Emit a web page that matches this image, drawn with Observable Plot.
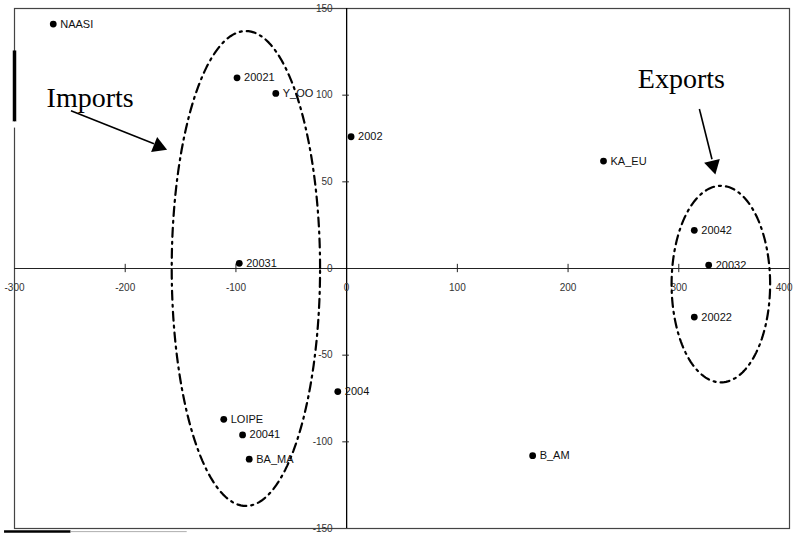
<!DOCTYPE html>
<html>
<head>
<meta charset="utf-8">
<script src="https://cdn.jsdelivr.net/npm/d3@7"></script>
<script src="https://cdn.jsdelivr.net/npm/@observablehq/plot@0.6"></script>
<style>
  html, body { margin: 0; padding: 0; background: #fff; }
  #chart svg { display: block; }
</style>
</head>
<body>
<div id="chart"></div>
<script>
// ---- data ----
const labels = ["NAASI", "20021", "Y_OO", "2002", "20031", "KA_EU", "20042", "20032", "20022", "B_AM", "2004", "LOIPE", "20041", "BA_MA"];
const xValues = [-265, -99, -64, 4, -97, 232, 314, 327, 314, 168, -8, -111, -94, -88];
const yValues = [141, 110, 101, 76, 3, 62, 22, 2, -28, -108, -71, -87, -96, -110];

const xTicks = [-300, -200, -100, 0, 100, 200, 300, 400];
const yTicks = [-150, -100, -50, 0, 50, 100, 150];

// annotation groups: ellipse centre, radii (data units)
const groupNames = ["Imports", "Exports"];
const groupCx = [-91, 338];
const groupCy = [0, -9];
const groupRx = [67, 44.5];
const groupRy = [137, 56.7];
// annotation text anchors (data units)
const noteX = [-271, 263];
const noteY = [93, 104];
// arrows: start and end (data units)
const arrowX1 = [-249, 318.6];
const arrowY1 = [91, 92];
const arrowX2 = [-174, 330];
const arrowY2 = [72, 63];
const arrowHeadX = [-170, 331];
const arrowHeadY = [70.5, 59.5];
const arrowRotate = [112, 166];

// ---- tables ----
const points = labels.map((l, i) => ({label: l, x: xValues[i], y: yValues[i]}));
const ellipses = [];
groupNames.forEach((g, i) => {
  for (let k = 0; k <= 180; k++) {
    const t = (k / 180) * 2 * Math.PI;
    ellipses.push({group: g, x: groupCx[i] + groupRx[i] * Math.cos(t), y: groupCy[i] + groupRy[i] * Math.sin(t)});
  }
});
const notes = groupNames.map((g, i) => ({text: g, x: noteX[i], y: noteY[i]}));
const arrows = groupNames.map((g, i) => ({x1: arrowX1[i], y1: arrowY1[i], x2: arrowX2[i], y2: arrowY2[i], hx: arrowHeadX[i], hy: arrowHeadY[i], rot: arrowRotate[i]}));

const font = "'Liberation Sans', Arial, sans-serif";
const xMax = xTicks[xTicks.length - 1];

const chart = Plot.plot({
  width: 795,
  height: 533,
  marginLeft: 14,
  marginRight: 6,
  marginTop: 8,
  marginBottom: 5,
  x: {domain: [-300, 400], axis: null},
  y: {domain: [-150, 150], axis: null},
  style: {background: "#fff", fontFamily: font},
  marks: [
    Plot.frame({stroke: "#444", strokeWidth: 1.2}),
    // artifacts of the scanned figure
    Plot.ruleX([-300], {y1: 84.5, y2: 125.5, stroke: "#000", strokeWidth: 3.5}),
    Plot.ruleX([-300], {y1: 81, y2: 84.5, stroke: "#fff", strokeWidth: 3}),
    Plot.ruleY([-151.8], {x1: -309, x2: -249, stroke: "#000", strokeWidth: 2.5}),
    Plot.ruleY([-151.8], {x1: -249, x2: -144, stroke: "#999", strokeWidth: 0.8}),
    // axes through the origin
    Plot.ruleY([0], {stroke: "#222", strokeWidth: 1.1}),
    Plot.ruleX([0], {stroke: "#000", strokeWidth: 1.3}),
    Plot.ruleX(xTicks.filter(d => d > -300 && d < 400 && d !== 0), {x: d => d, y1: -2.4, y2: 2.4, stroke: "#222"}),
    Plot.ruleY(yTicks.filter(d => d > -150 && d < 150 && d !== 0), {y: d => d, x1: -3.5, x2: 2.5, stroke: "#222"}),
    Plot.text(xTicks.filter(d => d !== xMax), {x: d => d, y: 0, text: d => String(d), dy: 19, fontSize: 10, fill: "#333", fontFamily: font}),
    Plot.text([xMax], {x: d => d, y: 0, text: d => String(d), dy: 19, dx: 3, textAnchor: "end", fontSize: 10, fill: "#333", fontFamily: font}),
    Plot.text(yTicks, {x: 0, y: d => d, text: d => String(d), dx: -14, textAnchor: "end", fontSize: 10, fill: "#333", fontFamily: font}),
    // group ellipses
    Plot.line(ellipses, {x: "x", y: "y", z: "group", stroke: "#000", strokeWidth: 2.2, strokeDasharray: "9,5,2,5", curve: "linear"}),
    // data points
    Plot.dot(points, {x: "x", y: "y", r: 3.4, fill: "#000"}),
    Plot.text(points, {x: "x", y: "y", text: "label", dx: 7, textAnchor: "start", fontSize: 11, fill: "#111", fontFamily: font}),
    // annotations
    Plot.link(arrows, {x1: "x1", y1: "y1", x2: "x2", y2: "y2", stroke: "#000", strokeWidth: 1.6}),
    Plot.dot(arrows, {x: "hx", y: "hy", symbol: "triangle", r: 6, fill: "#000", rotate: "rot"}),
    Plot.text(notes, {x: "x", y: "y", text: "text", textAnchor: "start", lineAnchor: "bottom", fontSize: 28, fill: "#000", fontFamily: "'Liberation Serif', 'Times New Roman', serif"})
  ]
});
document.getElementById("chart").appendChild(chart);
</script>
</body>
</html>
